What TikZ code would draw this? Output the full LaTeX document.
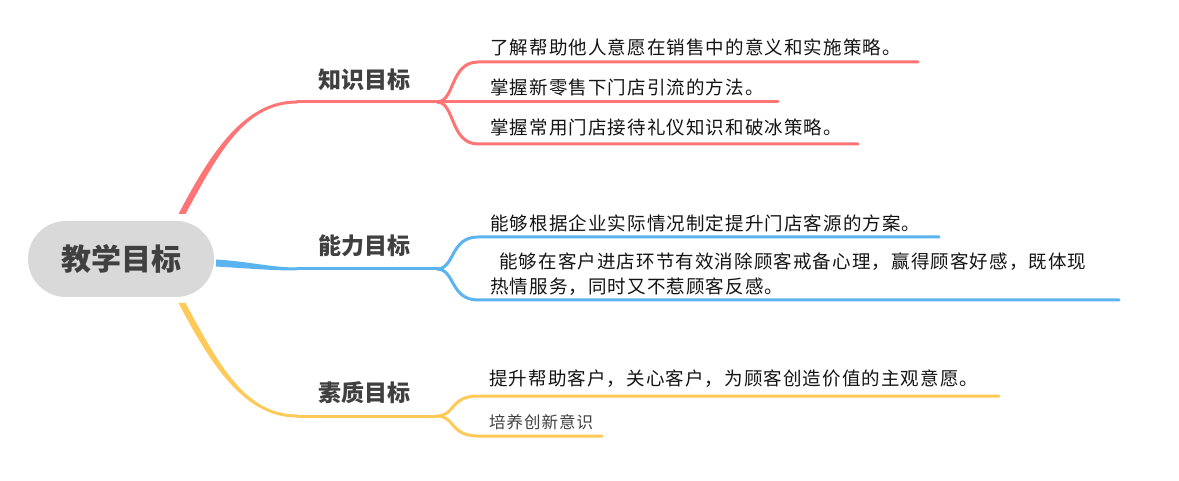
\documentclass[tikz,border=0pt]{standalone}
\usepackage{fontspec}
\newfontfamily\cjk{Noto Sans CJK SC}
\newfontfamily\cjkls[LetterSpace=6]{Noto Sans CJK SC}
\definecolor{cred}{RGB}{255,117,117}
\definecolor{cblue}{RGB}{91,180,240}
\definecolor{cyel}{RGB}{255,202,87}
\definecolor{pillc}{RGB}{217,217,217}
\definecolor{labc}{RGB}{64,64,64}
\definecolor{leafc}{RGB}{20,20,20}
\begin{document}
\begin{tikzpicture}[x=1pt,y=-1pt,
  leaf/.style={anchor=west,inner sep=0pt,text=leafc,font=\cjkls\fontsize{18.5}{25}\selectfont},
  leafsmall/.style={anchor=west,inner sep=0pt,text=labc,font=\cjkls\fontsize{16.5}{20}\selectfont},
  branch/.style={inner sep=0pt,text=labc,font=\cjk\bfseries\fontsize{23}{28}\selectfont},
  pill/.style={fill=pillc,rounded corners=38pt,minimum width=186pt,minimum height=76pt,inner sep=0pt,text=labc,font=\cjk\bfseries\fontsize{30}{36}\selectfont},
  twig/.style={line width=3pt,line cap=round}]
\fill[white] (0,0) rectangle (1179,481);
\useasboundingbox (0,0) rectangle (1179,481);

% root
\node[pill] (root) at (121,259) {教学目标};

% branch labels
\node[branch] (kn) at (364,80) {知识目标};
\node[branch] (ab) at (364,246) {能力目标};
\node[branch] (qu) at (364,393) {素质目标};

% coordinates
\coordinate (rB) at (297,102);
\coordinate (rF) at (437,102);
\coordinate (bB) at (297,269);
\coordinate (bF) at (437,269);
\coordinate (yB) at (297,416);
\coordinate (yF) at (437,416);

% tapered main branches
\fill[cred] (178.5,214) .. controls (211.5,151) and (245,100.5) .. (297,100.5) -- (297,103.5) .. controls (245,103.5) and (218.5,153) .. (185.5,214) -- cycle;
\fill[cblue] (216,259.5) .. controls (250,261.5) and (270,267.5) .. (297,267.5) -- (297,270.5) .. controls (270,270.5) and (250,268.5) .. (216,266.5) -- cycle;
\fill[cyel] (178.5,303) .. controls (211.5,366) and (245,417.5) .. (297,417.5) -- (297,414.5) .. controls (245,414.5) and (218.5,364) .. (185.5,303) -- cycle;

\draw[twig,cred] (rB) -- (rF);
\draw[twig,cblue] (bB) -- (bF);
\draw[twig,cyel] (yB) -- (yF);

% leaf texts
\node[leaf] (k1) at (490,47) {了解帮助他人意愿在销售中的意义和实施策略。};
\node[leaf] (k2) at (490,87) {掌握新零售下门店引流的方法。};
\node[leaf] (k3) at (490,127) {掌握常用门店接待礼仪知识和破冰策略。};
\node[leaf] (a1) at (490,223) {能够根据企业实际情况制定提升门店客源的方案。};
\node[leaf,align=left] (a2) at (490,274.5) {\hspace*{9pt}能够在客户进店环节有效消除顾客戒备心理，赢得顾客好感，既体现\\热情服务，同时又不惹顾客反感。};
\node[leaf] (q1) at (489,379) {提升帮助客户，关心客户，为顾客创造价值的主观意愿。};
\node[leafsmall] (q2) at (489,422) {培养创新意识};

% leaf lines
\coordinate (k1e) at (918,62);
\coordinate (k2e) at (778,102);
\coordinate (k3e) at (858,144);
\coordinate (a1e) at (939,237);
\coordinate (a2e) at (1119,300);
\coordinate (q1e) at (999,396);
\coordinate (q2e) at (602,436);

\draw[twig,cred] (rF) .. controls +(18,0) and +(-28,0) .. (478,62) -- (k1e);
\draw[twig,cred] (rF) -- (k2e);
\draw[twig,cred] (rF) .. controls +(18,0) and +(-28,0) .. (478,144) -- (k3e);

\draw[twig,cblue] (bF) .. controls +(18,0) and +(-28,0) .. (478,237) -- (a1e);
\draw[twig,cblue] (bF) .. controls +(18,0) and +(-28,0) .. (478,300) -- (a2e);

\draw[twig,cyel] (yF) .. controls +(18,0) and +(-28,0) .. (478,396) -- (q1e);
\draw[twig,cyel] (yF) .. controls +(18,0) and +(-28,0) .. (478,436) -- (q2e);
\end{tikzpicture}
\end{document}
